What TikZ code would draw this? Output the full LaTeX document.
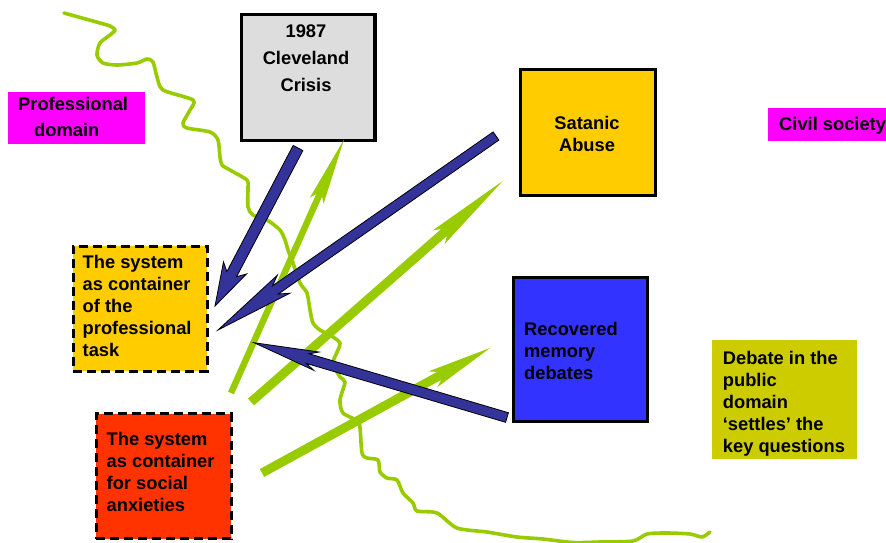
\documentclass[tikz,border=0pt]{standalone}
\usepackage{fontspec}
\setmainfont{Liberation Sans}
\usetikzlibrary{calc}
\definecolor{domainpink}{HTML}{FF00FF}
\definecolor{crisisgray}{HTML}{DDDDDD}
\definecolor{gold}{HTML}{FFCC00}
\definecolor{boxblue}{HTML}{3333FF}
\definecolor{olive}{HTML}{CCCC00}
\definecolor{redorange}{HTML}{FF3300}
\definecolor{arrowblue}{HTML}{333399}
\definecolor{limegreen}{HTML}{99CC00}
\newcommand\myfatarrow[8]{% #1 name, #2 style, #3 start, #4 tip, #5 half shaft, #6 half head, #7 head length, #8 neck
  \coordinate (#1-n) at ($(#4)!#8!(#3)$);
  \coordinate (#1-b) at ($(#4)!#7!(#3)$);
  \path[#2] ($(#3)!#5!90:(#4)$) -- ($(#1-n)!#5!90:(#4)$) -- ($(#1-b)!#6!90:(#4)$) -- (#4)
    -- ($(#1-b)!#6!-90:(#4)$) -- ($(#1-n)!#5!-90:(#4)$) -- ($(#3)!#5!-90:(#4)$) -- cycle;
}
\tikzset{
  box/.style={rectangle, inner sep=0pt, line width=3.2pt, draw=black},
  dashbox/.style={rectangle, inner sep=0pt, line width=3pt, draw=black, dash pattern=on 9pt off 5pt},
  plainbox/.style={rectangle, inner sep=0pt},
  label18/.style={inner sep=0pt, align=left, font=\fontsize{18.3}{22}\selectfont\bfseries},
  label18c/.style={inner sep=0pt, align=center, font=\fontsize{18.3}{22}\selectfont\bfseries},
  label18wide/.style={inner sep=0pt, align=left, font=\fontsize{18.3}{26.7}\selectfont\bfseries},
  label18widec/.style={inner sep=0pt, align=center, font=\fontsize{18.3}{26.7}\selectfont\bfseries},
  bluearrow/.style={fill=arrowblue, draw=black, line width=0.8pt, line join=miter},
  greenarrow/.style={fill=limegreen},
  border/.style={draw=limegreen, line width=3.6pt, line join=round, line cap=round}
}
\begin{document}
\begin{tikzpicture}[x=1pt,y=-1pt]
\useasboundingbox (0,0) rectangle (886,543);
\fill[white] (0,0) rectangle (886,543);

% wavy boundary
\draw[border] plot[smooth, tension=0.45] coordinates {
(64,13) (100,23) (110,26) (115,30) (110,35) (100,43) (97,55) (103,63) (117,65) (137,63) (147,59) (153,62) (157,77) (163,90) (193,100) (190,110) (183,123) (187,128) (210,132) (218,140) (220,157) (222,165) (230,170) (247,180) (248,187) (248,207) (253,215) (267,220) (280,230) (285,240) (288,250) (293,263) (300,283) (307,293) (310,310) (313,323) (320,330) (333,337) (340,343) (338,350) (333,363) (340,377) (345,382) (340,400) (343,413) (358,421) (360,428) (362,453) (367,458) (378,460) (380,472) (387,478) (397,480) (403,493) (413,503) (417,511) (437,513) (457,528) (487,532) (517,537) (543,539) (573,542.5) (600,542) (633,541) (647,534) (667,533) (690,534) (702,537) (710,532)};

% boxes
\node[plainbox, fill=domainpink, minimum width=136.7pt, minimum height=52pt] (prof) at (76.7,118.3) {};
\node[label18wide, anchor=north west] (proft) at (18,96.7) {Professional\\\hspace*{16pt}domain};

\node[box, fill=crisisgray, minimum width=133.5pt, minimum height=126pt] (crisis) at (308.3,77.2) {};
\node[label18widec, anchor=north] (crisist) at (306,25) {1987\\Cleveland\\Crisis};

\node[box, fill=gold, minimum width=134.4pt, minimum height=125.4pt] (satanic) at (588,132.5) {};
\node[label18c, anchor=north] (satanict) at (587,116) {Satanic\\Abuse};

\node[plainbox, fill=domainpink, minimum width=121.7pt, minimum height=32.4pt] (civil) at (829,124.5) {};
\node[label18, anchor=north west] (civilt) at (779,117.3) {Civil society};

\node[dashbox, fill=gold, minimum width=134pt, minimum height=125pt] (prof-task) at (140,308.7) {};
\node[label18, anchor=north west] (prof-taskt) at (82.5,255) {The system\\as container\\of the\\professional\\task};

\node[box, fill=boxblue, minimum width=134.6pt, minimum height=144.6pt] (recovered) at (580.5,349.5) {};
\node[label18, anchor=north west] (recoveredt) at (524,321.7) {Recovered\\memory\\debates};

\node[plainbox, fill=olive, minimum width=144.4pt, minimum height=119.3pt] (debate) at (784.5,399.7) {};
\node[label18, anchor=north west] (debatet) at (722.7,350.7) {Debate in the\\public\\domain\\‘settles’ the\\key questions};

\node[dashbox, fill=redorange, minimum width=134.8pt, minimum height=125.2pt] (social) at (163.7,476.2) {};
\node[label18, anchor=north west] (socialt) at (106.5,431.7) {The system\\as container\\for social\\anxieties};

% arrow end points
\coordinate (g1s) at (231,393);   \coordinate (g1t) at (344,139.5);
\coordinate (g2s) at (251,402);   \coordinate (g2t) at (502.7,181);
\coordinate (g3s) at (262,473);   \coordinate (g3t) at (490,348);
\coordinate (b1s) at (298,148);   \coordinate (b1t) at (215,306);
\coordinate (b2s) at (496,136);   \coordinate (b2t) at (218,330);
\coordinate (b3s) at (507,417.5); \coordinate (b3t) at (254,342.7);

% green arrows
\myfatarrow{g1}{greenarrow}{g1s}{g1t}{3.2pt}{7.5pt}{67pt}{61pt}
\myfatarrow{g2}{greenarrow}{g2s}{g2t}{4.5pt}{9pt}{85pt}{78pt}
\myfatarrow{g3}{greenarrow}{g3s}{g3t}{4.5pt}{9pt}{65pt}{58pt}

% blue arrows
\myfatarrow{b1}{bluearrow}{b1s}{b1t}{5.5pt}{13pt}{43pt}{36pt}
\myfatarrow{b2}{bluearrow}{b2s}{b2t}{5pt}{11pt}{80pt}{70pt}
\myfatarrow{b3}{bluearrow}{b3s}{b3t}{5pt}{9.5pt}{65pt}{56pt}
\end{tikzpicture}
\end{document}
